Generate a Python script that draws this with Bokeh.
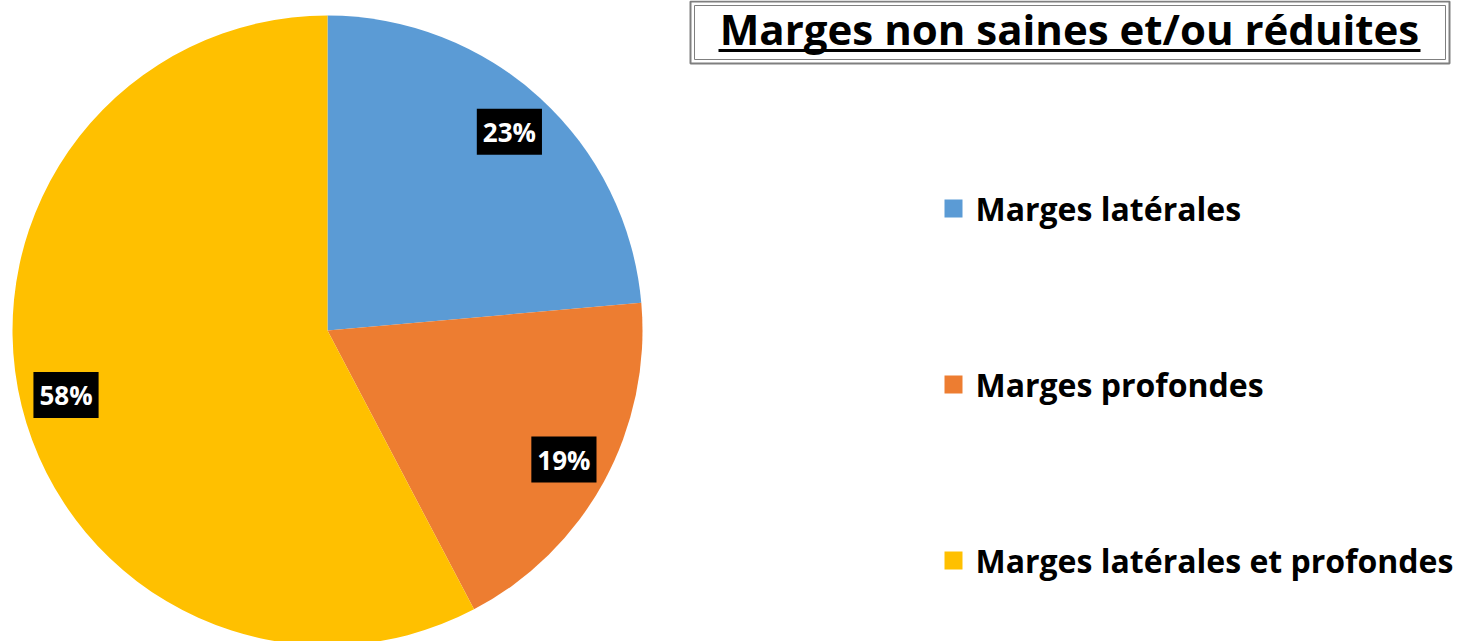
import numpy as np
from bokeh.plotting import figure
from bokeh.models import ColumnDataSource
from bokeh.core.properties import value
from bokeh.embed import file_html
from bokeh.resources import INLINE

categories = ["Marges latérales", "Marges profondes", "Marges latérales et profondes"]
values = [23.6, 18.7, 57.7]
labels = ["23%", "19%", "58%"]
colors = ["#5B9BD5", "#ED7D31", "#FFC000"]
title = "Marges non saines et/ou réduites"

W, H = 1469, 641
p = figure(width=W, height=H, x_range=(0, W), y_range=(0, H), output_backend="svg",
           toolbar_location=None, min_border=0)
p.axis.visible = False
p.grid.visible = False
p.outline_line_color = None
p.background_fill_color = "white"

cx, cy, R = 327, H - 330, 315
vals = np.array(values, dtype=float)
frac = vals / vals.sum()
cum = np.concatenate([[0], np.cumsum(frac)])
start = np.deg2rad(90 - cum[1:] * 360)
end = np.deg2rad(90 - cum[:-1] * 360)
mid = (start + end) / 2
src = ColumnDataSource(dict(start=start, end=end, color=colors,
                            lx=cx + 0.855 * R * np.cos(mid), ly=cy + 0.855 * R * np.sin(mid),
                            label=labels))
p.wedge(x=cx, y=cy, radius=R, start_angle="start", end_angle="end", fill_color="color",
        line_color=None, source=src)
p.text(x="lx", y="ly", text="label", source=src, text_color="white", text_font=value("Open Sans"),
       text_font_style="bold", text_font_size="26px", text_align="center", text_baseline="middle",
       background_fill_color="black", padding=[6, 5])

# Title box
p.quad(left=[690], right=[1449], bottom=[H - 63], top=[H - 1], fill_color=None, line_color="#7f7f7f", line_width=2)
p.quad(left=[694], right=[1445], bottom=[H - 59], top=[H - 5], fill_color=None, line_color="#7f7f7f", line_width=1)
p.text(x=[1069], y=[H - 28], text=[title], text_font=value("Open Sans"), text_font_style="bold",
       text_font_size="42px", text_align="center", text_baseline="middle", text_color="black")
p.segment(x0=[718], y0=[H - 50], x1=[1420], y1=[H - 50], line_color="black", line_width=3)

# Legend
ly_px = [208, 384, 560]
lsrc = ColumnDataSource(dict(x=[953] * 3, y=[H - v for v in ly_px], color=colors, name=categories,
                             tx=[975] * 3))
p.rect(x="x", y="y", width=18, height=18, fill_color="color", line_color=None, source=lsrc)
p.text(x="tx", y="y", text="name", source=lsrc, text_font=value("Open Sans"), text_font_style="bold",
       text_font_size="32px", text_baseline="middle", text_color="black")

open("out.html", "w").write(file_html(p, INLINE))
